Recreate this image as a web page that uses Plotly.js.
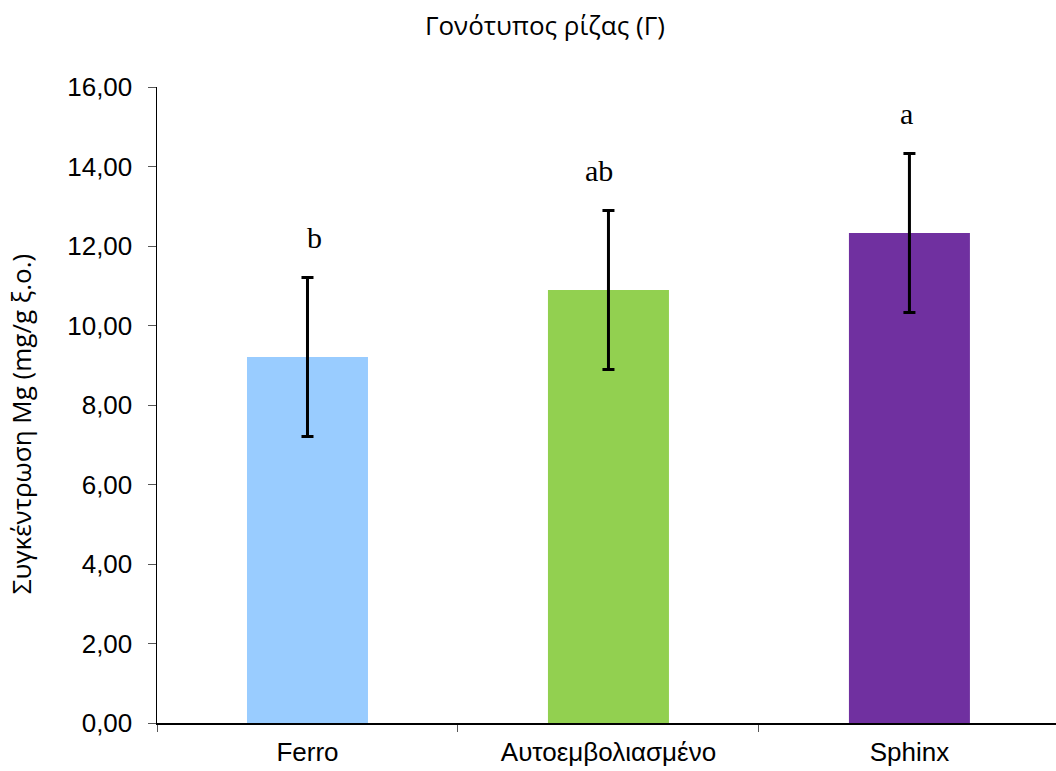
<!DOCTYPE html>
<html>
<head>
<meta charset="utf-8">
<script src="https://cdn.plot.ly/plotly-3.0.1.min.js"></script>
<style>html,body{margin:0;padding:0;background:#fff;}#chart{width:1056px;height:771px;}</style>
</head>
<body>
<div id="chart"></div>
<script>
const categories = ["Ferro", "Αυτοεμβολιασμένο", "Sphinx"];
const values = [9.21, 10.89, 12.33];
const errors = [2.0, 2.0, 2.0];
const letters = ["b", "ab", "a"];
const barColors = ["#99CCFF", "#92D050", "#7030A0"];
const yTickVals = [0, 2, 4, 6, 8, 10, 12, 14, 16];

const letterShift = [7, -9, -3];
const letterGap = 1.0;

const trace = {
  type: "bar",
  x: categories,
  y: values,
  marker: {color: barColors, line: {width: 0}},
  error_y: {type: "data", array: errors, visible: true, color: "#000000", thickness: 3, width: 6},
  hoverinfo: "none"
};

const annotations = letters.map((t, i) => ({
  x: i, y: values[i] + errors[i] + letterGap,
  xref: "x", yref: "y",
  text: t, showarrow: false,
  xshift: letterShift[i],
  yanchor: "middle", xanchor: "center",
  font: {family: "Liberation Serif, Times New Roman, serif", size: 30, color: "#000"}
}));

annotations.push({
  xref: "paper", yref: "paper",
  x: -0.151, y: 0.47,
  xanchor: "center", yanchor: "middle",
  textangle: -90,
  text: "Συγκέντρωση Mg (mg/g ξ.ο.)",
  showarrow: false,
  font: {family: "Open Sans, Noto Sans, sans-serif", size: 26, color: "#000"}
});

const layout = {
  width: 1056, height: 771,
  margin: {l: 157, r: 0, t: 87, b: 48, pad: 0},
  paper_bgcolor: "#ffffff",
  plot_bgcolor: "#ffffff",
  showlegend: false,
  bargap: 0.598,
  separators: ",.",
  title: {
    text: "Γονότυπος ρίζας (Γ)",
    x: 0.516, xanchor: "center",
    y: 0.966, yanchor: "middle",
    font: {family: "Open Sans, Noto Sans, sans-serif", size: 26, color: "#000"}
  },
  xaxis: {
    type: "category",
    range: [-0.5, 2.487],
    showline: true, linecolor: "#000", linewidth: 1.5,
    ticks: "outside", tickson: "boundaries", ticklen: 7, tickcolor: "#555", tickwidth: 1,
    showgrid: false, zeroline: false,
    tickfont: {family: "Liberation Sans, Arial, sans-serif", size: 26, color: "#000"},
    ticklabelstandoff: 5
  },
  yaxis: {
    range: [0, 16],
    tickvals: yTickVals,
    tickformat: ".2f",
    showline: true, linecolor: "#000", linewidth: 1.5,
    ticks: "outside", ticklen: 8, tickcolor: "#555", tickwidth: 1,
    showgrid: false, zeroline: false,
    tickfont: {family: "Liberation Sans, Arial, sans-serif", size: 26, color: "#000"},
    ticklabelstandoff: 10
  },
  annotations: annotations
};

Plotly.newPlot("chart", [trace], layout, {displayModeBar: false, staticPlot: true});
</script>
</body>
</html>
